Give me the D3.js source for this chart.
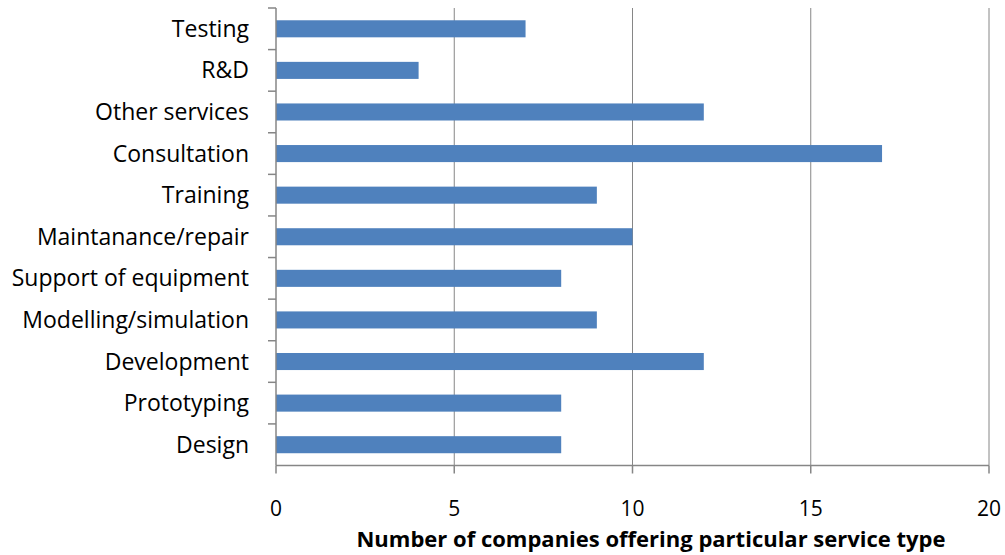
<!DOCTYPE html>
<html>
<head>
<meta charset="utf-8">
<script src="https://cdn.jsdelivr.net/npm/d3@7"></script>
<style>
  body { margin: 0; background: #fff; }
  text { font-family: "Open Sans", sans-serif; fill: #000; }
</style>
</head>
<body>
<div id="chart"></div>
<script>
// data, listed top to bottom as in the chart
var categories = ["Testing", "R&D", "Other services", "Consultation", "Training",
  "Maintanance/repair", "Support of equipment", "Modelling/simulation",
  "Development", "Prototyping", "Design"];
var values = [7, 4, 12, 17, 9, 10, 8, 9, 12, 8, 8];
var xTicks = [0, 5, 10, 15, 20];
var xTitle = "Number of companies offering particular service type";

var width = 1005, height = 555;
var plotLeft = 276, plotRight = 989, plotTop = 8, plotBottom = 465.5;
var axisColor = "#868686";

var svg = d3.select("#chart").append("svg")
  .attr("width", width)
  .attr("height", height);

var x = d3.scaleLinear().domain([0, 20]).range([plotLeft, plotRight]);
var y = d3.scaleBand().domain(categories).range([plotTop, plotBottom]).paddingInner(0.59).paddingOuter(0.295);
var yb = d3.scaleBand().domain(categories).range([plotTop, plotBottom]);

// vertical gridlines
svg.selectAll(".grid")
  .data(xTicks.slice(1))
  .enter().append("line")
  .attr("x1", d => x(d)).attr("x2", d => x(d))
  .attr("y1", plotTop).attr("y2", plotBottom)
  .attr("stroke", axisColor).attr("stroke-width", 1);

// bars
svg.selectAll(".bar")
  .data(values)
  .enter().append("rect")
  .attr("x", x(0))
  .attr("y", (d, i) => y(categories[i]))
  .attr("width", d => x(d) - x(0))
  .attr("height", y.bandwidth())
  .attr("fill", "#4F81BD");

// y axis line and ticks at band boundaries
svg.append("line")
  .attr("x1", plotLeft).attr("x2", plotLeft)
  .attr("y1", plotTop).attr("y2", plotBottom)
  .attr("stroke", axisColor).attr("stroke-width", 1.5);

svg.selectAll(".ytick")
  .data(categories)
  .enter().append("line")
  .attr("x1", plotLeft - 8).attr("x2", plotLeft)
  .attr("y1", d => yb(d)).attr("y2", d => yb(d))
  .attr("stroke", axisColor).attr("stroke-width", 1.5);

svg.selectAll(".ylabel")
  .data(categories)
  .enter().append("text")
  .attr("x", plotLeft - 27)
  .attr("y", d => yb(d) + yb.bandwidth() / 2 + 8)
  .attr("text-anchor", "end")
  .style("font-size", "23px")
  .text(d => d);

// x axis
svg.append("line")
  .attr("x1", plotLeft).attr("x2", plotRight)
  .attr("y1", plotBottom).attr("y2", plotBottom)
  .attr("stroke", axisColor).attr("stroke-width", 1.5);

svg.selectAll(".xtick")
  .data(xTicks)
  .enter().append("line")
  .attr("x1", d => x(d)).attr("x2", d => x(d))
  .attr("y1", plotBottom).attr("y2", plotBottom + 8)
  .attr("stroke", axisColor).attr("stroke-width", 1.5);

svg.selectAll(".xlabel")
  .data(xTicks)
  .enter().append("text")
  .attr("x", d => x(d))
  .attr("y", 516)
  .attr("text-anchor", "middle")
  .style("font-size", "21px")
  .text(d => d);

svg.append("text")
  .attr("x", 651)
  .attr("y", 547)
  .attr("text-anchor", "middle")
  .style("font-size", "22px")
  .style("font-weight", "bold")
  .text(xTitle);
</script>
</body>
</html>
